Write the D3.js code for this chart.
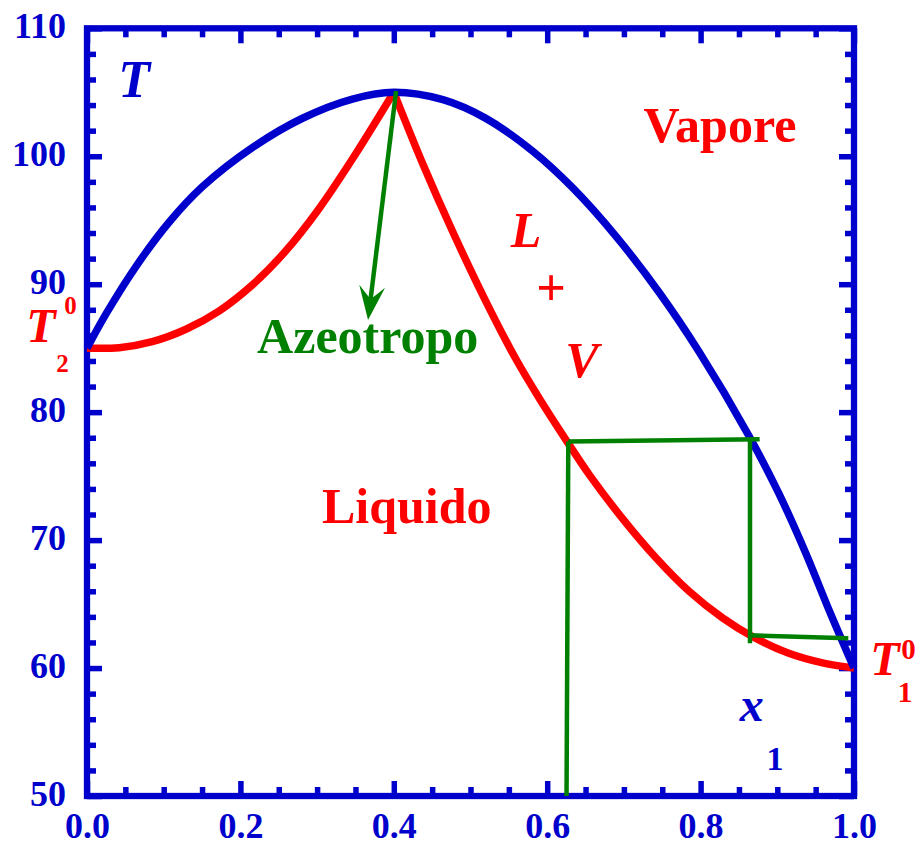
<!DOCTYPE html>
<html>
<head>
<meta charset="utf-8">
<script src="https://cdn.jsdelivr.net/npm/d3@7"></script>
<style>
  html, body { margin: 0; padding: 0; background: #fff; }
  svg { display: block; }
  text { font-family: "Liberation Serif", "Times New Roman", serif; font-weight: bold; }
</style>
</head>
<body>
<svg id="chart" width="918" height="846"></svg>
<script>
// Boiling-point diagram of a binary mixture with a maximum-boiling azeotrope.
// x1 = mole fraction of component 1, T = temperature.

// Dew curve (vapour boundary)
const vapourX = [0.000, 0.025, 0.064, 0.107, 0.150, 0.216, 0.281, 0.346, 0.400, 0.464, 0.520,
                 0.581, 0.633, 0.690, 0.746, 0.798, 0.863, 0.902, 0.937, 0.967, 1.000];
const vapourT = [85.0, 87.7, 91.4, 94.84, 97.59, 100.69, 102.97, 104.47, 105.0, 104.42, 102.96,
                 100.4, 97.54, 93.72, 89.35, 84.72, 78.15, 73.65, 69.0, 64.6, 60.0];

// Bubble curve (liquid boundary), with a cusp at the azeotrope
const liquidX = [0.000, 0.042, 0.085, 0.129, 0.172, 0.216, 0.259, 0.302, 0.346, 0.400,
                 0.438, 0.477, 0.520, 0.559, 0.590, 0.627, 0.655, 0.698, 0.742, 0.785,
                 0.829, 0.868, 0.915, 0.959, 1.000];
const liquidT = [85.0, 85.04, 85.51, 86.48, 87.90, 89.97, 92.59, 95.86, 99.78, 105.0,
                 99.38, 94.08, 88.66, 84.17, 81.05, 77.6, 75.1, 71.7, 68.6, 66.0,
                 63.9, 62.45, 61.15, 60.4, 60.0];

// Azeotrope composition / temperature
const azeoX = 0.400;
const azeoT = 105.0;

// Arrow pointing at the azeotrope label: start (on the azeotrope) and tip
const arrowX = [0.403, 0.3664];
const arrowT = [105.1, 87.2];

// Distillation steps (segments from point 1 to point 2)
const stepX1 = [0.6252, 0.6275, 0.8644, 0.8630];
const stepT1 = [50.0, 77.7, 77.82, 62.56];
const stepX2 = [0.6275, 0.877, 0.8644, 0.9926];
const stepT2 = [77.7, 77.88, 61.93, 62.33];

// Axes
const xMajor = [0.0, 0.2, 0.4, 0.6, 0.8, 1.0];
const xTickLabels = ["0.0", "0.2", "0.4", "0.6", "0.8", "1.0"];
const yMajor = [50, 60, 70, 80, 90, 100, 110];
const yTickLabels = ["50", "60", "70", "80", "90", "100", "110"];
const xMinor = d3.range(0, 1.0001, 0.05).filter(v => Math.abs(v * 5 - Math.round(v * 5)) > 1e-6);
const yMinor = d3.range(50, 110.001, 2).filter(v => v % 10 !== 0);

const BLUE = "#0000cc", RED = "#ff0000", GREEN = "#008000";

const svg = d3.select("#chart");
const x = d3.scaleLinear().domain([0, 1]).range([87, 854]);
const y = d3.scaleLinear().domain([50, 110]).range([796, 28.3]);
const [x0, x1] = x.range();
const [y0, y1] = y.range();

// ---- frame and ticks (all ticks point inward) ----
function styleAxis(g) {
  g.select(".domain").remove();
  g.selectAll(".tick line").attr("stroke", BLUE).attr("stroke-width", 5.5);
  g.selectAll(".tick text")
    .attr("fill", BLUE)
    .style("font-size", "36px")
    .style("font-weight", "bold")
    .style("font-family", '"Liberation Serif", "Times New Roman", serif');
}

const axes = [
  { make: () => d3.axisLeft(y),   at: `translate(${x0},0)`, major: yMajor, minor: yMinor, labels: yTickLabels, pad: 21, dy: "0.25em" },
  { make: () => d3.axisRight(y),  at: `translate(${x1},0)`, major: yMajor, minor: yMinor, labels: null },
  { make: () => d3.axisBottom(x), at: `translate(0,${y0})`, major: xMajor, minor: xMinor, labels: xTickLabels, pad: 16 },
  { make: () => d3.axisTop(x),    at: `translate(0,${y1})`, major: xMajor, minor: xMinor, labels: null }
];

axes.forEach(a => {
  const minorGen = a.make().tickValues(a.minor).tickSize(-9).tickSizeOuter(0).tickFormat(() => "");
  svg.append("g").attr("transform", a.at).call(minorGen).call(styleAxis);
  const majorGen = a.make().tickValues(a.major).tickSize(-15).tickSizeOuter(0)
    .tickPadding(a.pad || 3)
    .tickFormat((d, i) => a.labels ? a.labels[i] : "");
  const g = svg.append("g").attr("transform", a.at).call(majorGen).call(styleAxis);
  if (a.dy) g.selectAll(".tick text").attr("dy", a.dy);
});

svg.append("rect")
  .attr("x", x0).attr("y", y1)
  .attr("width", x1 - x0).attr("height", y0 - y1)
  .attr("fill", "none").attr("stroke", BLUE).attr("stroke-width", 6.3);

// ---- curves ----
const line = d3.line().x(d => x(d[0])).y(d => y(d[1])).curve(d3.curveCatmullRom.alpha(0.5));

const liquid = liquidX.map((v, i) => [v, liquidT[i]]);
const liquidLeft = liquid.filter(d => d[0] <= azeoX);
const liquidRight = liquid.filter(d => d[0] >= azeoX);
const vapour = vapourX.map((v, i) => [v, vapourT[i]]);

[liquidLeft, liquidRight].forEach(branch => {
  svg.append("path").attr("d", line(branch))
    .attr("fill", "none").attr("stroke", RED).attr("stroke-width", 7.5)
    .attr("stroke-linejoin", "round");
});

svg.append("path").attr("d", line(vapour))
  .attr("fill", "none").attr("stroke", BLUE).attr("stroke-width", 7.5)
  .attr("stroke-linejoin", "round");

// ---- distillation steps ----
svg.append("g").selectAll("line")
  .data(stepX1.map((v, i) => i))
  .join("line")
  .attr("x1", i => x(stepX1[i])).attr("y1", i => y(stepT1[i]))
  .attr("x2", i => x(stepX2[i])).attr("y2", i => y(stepT2[i]))
  .attr("stroke", GREEN).attr("stroke-width", 4.5);

// ---- arrow to the azeotrope ----
{
  const sx = x(arrowX[0]), sy = y(arrowT[0]);
  const tx = x(arrowX[1]), ty = y(arrowT[1]);
  const len = Math.hypot(tx - sx, ty - sy);
  const ux = (tx - sx) / len, uy = (ty - sy) / len;   // unit direction
  const px = -uy, py = ux;                              // perpendicular
  const headLen = 34, halfW = 13, notch = 13;
  const bx = tx - ux * headLen, by = ty - uy * headLen;
  const nx = tx - ux * (headLen - notch), ny = ty - uy * (headLen - notch);
  svg.append("line")
    .attr("x1", sx).attr("y1", sy).attr("x2", nx).attr("y2", ny)
    .attr("stroke", GREEN).attr("stroke-width", 4.5);
  svg.append("path")
    .attr("d", `M${tx},${ty}L${bx + px * halfW},${by + py * halfW}L${nx},${ny}L${bx - px * halfW},${by - py * halfW}Z`)
    .attr("fill", GREEN);
}

// ---- labels ----
const labels = [
  { t: "T", x: 0.0613, y: 104.65, size: 52, fill: BLUE, italic: true },
  { t: "Vapore", x: 0.8253, y: 101.12, size: 50, fill: RED },
  { t: "Azeotropo", x: 0.366, y: 84.63, size: 50, fill: GREEN },
  { t: "Liquido", x: 0.4168, y: 71.3, size: 50, fill: RED },
  { t: "L", x: 0.5724, y: 92.87, size: 50, fill: RED, italic: true },
  { t: "+", x: 0.605, y: 88.37, size: 52, fill: RED },
  { t: "V", x: 0.6454, y: 82.75, size: 50, fill: RED, italic: true },
  { t: "x", x: 0.8666, y: 55.84, size: 48, fill: BLUE, italic: true },
  { t: "1", x: 0.897, y: 52.03, size: 34, fill: BLUE },
  { t: "T", x: -0.060, y: 85.5, size: 48, fill: RED, italic: true },
  { t: "0", x: -0.0215, y: 87.7, size: 25, fill: RED },
  { t: "2", x: -0.032, y: 83.16, size: 25, fill: RED },
  { t: "T", x: 1.0404, y: 59.46, size: 48, fill: RED, italic: true },
  { t: "0", x: 1.071, y: 60.7, size: 29, fill: RED },
  { t: "1", x: 1.0665, y: 57.37, size: 30, fill: RED }
];

svg.append("g").selectAll("text")
  .data(labels)
  .join("text")
  .attr("x", d => x(d.x)).attr("y", d => y(d.y))
  .attr("text-anchor", "middle")
  .attr("fill", d => d.fill)
  .style("font-size", d => d.size + "px")
  .style("font-style", d => d.italic ? "italic" : "normal")
  .text(d => d.t);
</script>
</body>
</html>
